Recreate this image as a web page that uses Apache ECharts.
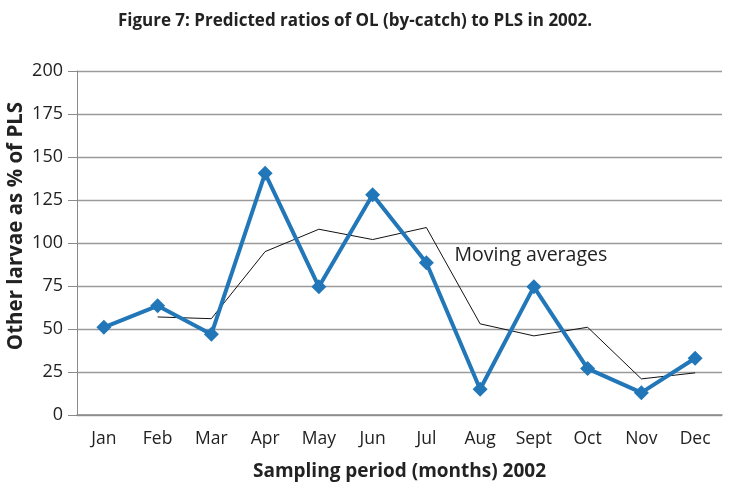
<!DOCTYPE html>
<html>
<head>
<meta charset="utf-8">
<script src="https://cdn.jsdelivr.net/npm/echarts@6/dist/echarts.min.js"></script>
<style>html,body{margin:0;padding:0;background:#fff;}#c{width:743px;height:497px;}</style>
</head>
<body>
<div id="c"></div>
<script>
var months = ['Jan','Feb','Mar','Apr','May','Jun','Jul','Aug','Sept','Oct','Nov','Dec'];
var ratios = [51, 63.5, 47, 140.5, 74.5, 128, 88.5, 15, 74.5, 27, 13, 33];
var movingAvg = [null, 57, 56, 95, 108, 102, 109, 53, 46, 51, 21, 24.5];
var yTicks = [0, 25, 50, 75, 100, 125, 150, 175, 200];

var chart = echarts.init(document.getElementById('c'));
var font = '"Open Sans", "Noto Sans", sans-serif';
chart.setOption({
  animation: false,
  textStyle: {fontFamily: font},
  title: {
    text: 'Figure 7: Predicted ratios of OL (by-catch) to PLS in 2002.',
    left: 350, top: 8, textAlign: 'center',
    textStyle: {fontFamily: font, fontSize: 17, fontWeight: 'bold', color: '#222'}
  },
  grid: {left: 77, right: 21, top: 71, bottom: 82, outerBoundsMode: 'none', containLabel: false},
  xAxis: {
    type: 'category',
    data: months,
    boundaryGap: true,
    name: 'Sampling period (months) 2002',
    nameLocation: 'middle',
    nameGap: 47,
    nameMoveOverlap: false,
    nameTextStyle: {fontSize: 19, fontWeight: 'bold', color: '#222', fontFamily: font},
    axisLine: {lineStyle: {color: '#8a8a8a', width: 1.5}},
    axisTick: {show: false},
    axisLabel: {fontSize: 17.5, color: '#222', margin: 15, fontFamily: font}
  },
  yAxis: {
    type: 'value',
    min: yTicks[0], max: yTicks[yTicks.length - 1], interval: 25,
    name: 'Other larvae as % of PLS',
    nameLocation: 'middle',
    nameGap: 50,
    nameMoveOverlap: false,
    nameTextStyle: {fontSize: 20.5, fontWeight: 'bold', color: '#222', fontFamily: font, padding: [0, 0, 0, 34]},
    axisLine: {show: true, lineStyle: {color: '#8a8a8a', width: 1}},
    axisTick: {show: true, length: 9, lineStyle: {color: '#8a8a8a'}},
    axisLabel: {fontSize: 18, color: '#222', margin: 14, fontFamily: font},
    splitLine: {lineStyle: {color: '#9a9a9a', width: 1.3}}
  },
  series: [
    {
      type: 'line',
      data: movingAvg,
      symbol: 'none',
      lineStyle: {color: '#111', width: 1},
      z: 3,
      markPoint: {
        symbol: 'circle', symbolSize: 0,
        data: [{coord: ['Sept', 92.5]}],
        label: {show: true, formatter: 'Moving averages', position: 'inside', offset: [-3, 0],
                fontSize: 19.5, color: '#222', fontFamily: font}
      }
    },
    {
      type: 'line',
      data: ratios,
      symbol: 'diamond',
      symbolSize: 15,
      itemStyle: {color: '#2277b8'},
      lineStyle: {color: '#2277b8', width: 4},
      z: 4
    }
  ]
});
</script>
</body>
</html>
